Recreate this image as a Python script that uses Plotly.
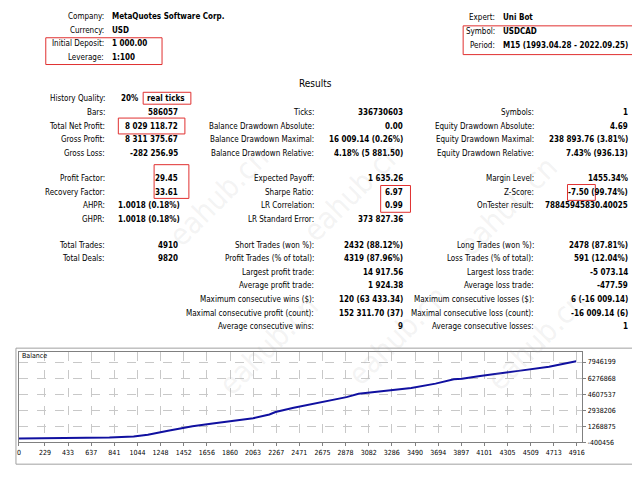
import plotly.graph_objects as go

trades = [0, 529, 797, 1011, 1136, 1314, 1529, 1707, 1921, 2064, 2207, 2261, 2421, 2564, 2671, 2779,
          2886, 2993, 3207, 3457, 3671, 3832, 3904, 4064, 4386, 4529, 4671, 4910]
balance = [1000, 50000, 100000, 200000, 400000, 800000, 1270000, 1550000, 1900000, 2100000, 2500000,
           2750000, 3200000, 3550000, 3800000, 4100000, 4300000, 4650000, 4900000, 5250000, 5700000,
           6150000, 6200000, 6500000, 7000000, 7200000, 7450000, 8030119]
xticks = [0, 229, 433, 637, 841, 1044, 1248, 1452, 1656, 1860, 2063, 2267, 2471, 2675, 2878, 3082,
          3286, 3490, 3694, 3897, 4101, 4305, 4509, 4713, 4916]
yticks = [-400456, 1268875, 2938206, 4607537, 6276868, 7946199]

header_left = [("Company:", "MetaQuotes Software Corp.", 9), ("Currency:", "USD", 23),
               ("Initial Deposit:", "1 000.00", 36), ("Leverage:", "1:100", 50)]
header_right = [("Expert:", "Uni Bot", 10), ("Symbol:", "USDCAD", 24), ("Period:", "M15 (1993.04.28 - 2022.09.25)", 38)]

rows = [  # y, col1 label, col1 value, col2 label, col2 value, col3 label, col3 value
    (105, "Bars:", "586057", "Ticks:", "336730603", "Symbols:", "1"),
    (119, "Total Net Profit:", "8 029 118.72", "Balance Drawdown Absolute:", "0.00", "Equity Drawdown Absolute:", "4.69"),
    (133, "Gross Profit:", "8 311 375.67", "Balance Drawdown Maximal:", "16 009.14 (0.26%)", "Equity Drawdown Maximal:", "238 893.76 (3.81%)"),
    (147, "Gross Loss:", "-282 256.95", "Balance Drawdown Relative:", "4.18% (5 881.50)", "Equity Drawdown Relative:", "7.43% (936.13)"),
    (172, "Profit Factor:", "29.45", "Expected Payoff:", "1 635.26", "Margin Level:", "1455.34%"),
    (186, "Recovery Factor:", "33.61", "Sharpe Ratio:", "6.97", "Z-Score:", "-7.50 (99.74%)"),
    (199, "AHPR:", "", "LR Correlation:", "0.99", "OnTester result:", "78845945830.40025"),
    (213, "GHPR:", "", "LR Standard Error:", "373 827.36", "", ""),
    (239, "Total Trades:", "4910", "Short Trades (won %):", "2432 (88.12%)", "Long Trades (won %):", "2478 (87.81%)"),
    (253, "Total Deals:", "9820", "Profit Trades (% of total):", "4319 (87.96%)", "Loss Trades (% of total):", "591 (12.04%)"),
    (267, "", "", "Largest profit trade:", "14 917.56", "Largest loss trade:", "-5 073.14"),
    (280, "", "", "Average profit trade:", "1 924.38", "Average loss trade:", "-477.59"),
    (294, "", "", "Maximum consecutive wins ($):", "120 (63 433.34)", "Maximum consecutive losses ($):", "6 (-16 009.14)"),
    (308, "", "", "Maximal consecutive profit (count):", "152 311.70 (37)", "Maximal consecutive loss (count):", "-16 009.14 (6)"),
    (321, "", "", "Average consecutive wins:", "9", "Average consecutive losses:", "1"),
]
left_vals = [(199, "1.0018 (0.18%)"), (213, "1.0018 (0.18%)")]

W, H = 640, 480
def px(x): return x / W
def py(y): return 1 - y / H

FONT = "DejaVu Sans Condensed, Liberation Sans Narrow, Liberation Sans"
anns = []
def txt(x, y, s, anchor, bold=False, size=8, color="#000"):
    if not s: return
    anns.append(dict(x=px(x), y=py(y), xref="paper", yref="paper", text=f"<b>{s}</b>" if bold else s,
                     showarrow=False, xanchor=anchor, yanchor="middle",
                     font=dict(family=FONT, size=size, color=color)))

for lab, val, y in header_left:
    txt(97, y, lab, "right"); txt(101, y, val, "left", True)
for lab, val, y in header_right:
    txt(490, y, lab, "right"); txt(494, y, val, "left", True)
txt(307, 76, "Results", "center", size=10)
txt(98, 91, "History Quality:", "right")
txt(110, 91, "20%", "left", True)
txt(136, 91, "real ticks", "left", True)
for y, l1, v1, l2, v2, l3, v3 in rows:
    txt(98, y, l1, "right"); txt(171, y, v1, "right", True)
    txt(308, y, l2, "right"); txt(397, y, v2, "right", True)
    txt(529, y, l3, "right"); txt(624, y, v3, "right", True)
for y, v in left_vals:
    txt(107, y, v, "left", True)

# watermarks
for (x, y) in [(150, 130), (345, 125), (560, 140), (200, 400), (390, 390), (590, 395)]:
    anns.append(dict(x=px(x), y=py(y), xref="paper", yref="paper", text="eahub.cn", showarrow=False,
                     textangle=-45, font=dict(family=FONT, size=30, color="rgba(170,170,170,0.15)")))

anns.append(dict(x=px(10), y=py(351), xref="paper", yref="paper", text="Balance", showarrow=False,
                 xanchor="left", yanchor="middle", font=dict(family=FONT, size=7, color="#000")))

shapes = []
def box(x0, y0, x1, y1, color="#e03030", width=1):
    shapes.append(dict(type="rect", xref="paper", yref="paper", x0=px(x0), x1=px(x1), y0=py(y1), y1=py(y0),
                       line=dict(color=color, width=width)))
box(36, 30, 153, 57); box(456, 18, 631, 47); box(134, 85, 182, 97); box(109, 111, 176, 127)
box(145, 158, 180, 192); box(373, 179, 403, 206); box(561, 178, 589, 194)
box(6, 343, 636, 460, color="#a0a0a0")

fig = go.Figure(go.Scatter(x=trades, y=balance, mode="lines", line=dict(color="#1010a0", width=2),
                           hoverinfo="skip"))
fig.update_layout(
    width=W, height=H, margin=dict(l=0, r=0, t=0, b=0), paper_bgcolor="white", plot_bgcolor="white",
    showlegend=False, annotations=anns, shapes=shapes,
    xaxis=dict(domain=[px(9), px(576)], range=[0, 4965], tickvals=xticks, ticktext=[str(t) for t in xticks],
               showgrid=True, gridcolor="#c8c8c8", griddash="dash", gridwidth=1, zeroline=False,
               showline=True, linecolor="#808080", mirror=True, ticks="outside", ticklen=3, tickcolor="#808080",
               tickfont=dict(family=FONT, size=7, color="#000")),
    yaxis=dict(domain=[py(438), py(347)], range=[-400456, 8976000], side="right", tickvals=yticks,
               ticktext=[str(t) for t in yticks], showgrid=True, gridcolor="#c8c8c8", griddash="dash",
               zeroline=False, showline=True, linecolor="#808080", mirror=True, ticks="outside", ticklen=3,
               tickcolor="#808080", tickfont=dict(family=FONT, size=7, color="#000")),
)
fig.write_html("out.html")
